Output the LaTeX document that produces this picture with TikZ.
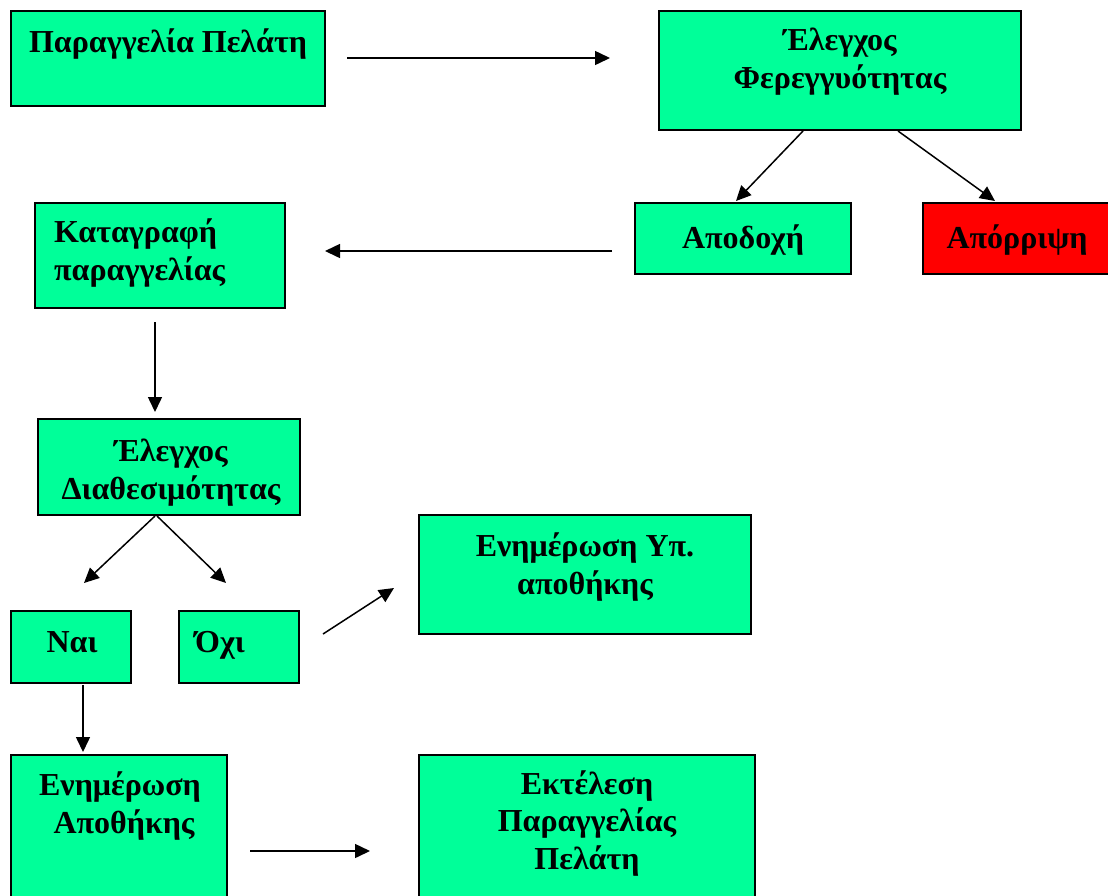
\documentclass[tikz,border=0pt]{standalone}
\usepackage{fontspec}
\setmainfont{Liberation Serif}
\usetikzlibrary{arrows.meta,fit}
\definecolor{boxgreen}{HTML}{00FF99}
\definecolor{boxred}{HTML}{FF0000}
\tikzset{
  box/.style={draw=black, line width=1.5pt, fill=boxgreen, inner sep=0pt},
  redbox/.style={box, fill=boxred},
  txt/.style={font=\fontsize{32}{37.5}\selectfont\bfseries, inner sep=0pt, anchor=base, align=center},
  txtl/.style={txt, anchor=base west, align=left},
  conn/.style={line width=1.5pt, -{Triangle[length=15pt,width=14pt]}}
}
\begin{document}
\begin{tikzpicture}[x=1pt,y=-1pt]
\useasboundingbox[fill=white] (0,0) rectangle (1108,895);
% boxes
\node[box, fit={(11,11) (325,106)}] (b1) {};
\node[box, fit={(659,11) (1021,130)}] (b2) {};
\node[box, fit={(635,203) (851,274)}] (acc) {};
\node[redbox, fit={(923,203) (1115,274)}] (rej) {};
\node[box, fit={(35,203) (285,308)}] (rec) {};
\node[box, fit={(38,419) (300,515)}] (avail) {};
\node[box, fit={(11,611) (131,683)}] (yes) {};
\node[box, fit={(179,611) (299,683)}] (no) {};
\node[box, fit={(419,515) (751,634)}] (upd2) {};
\node[box, fit={(11,755) (227,905)}] (upd) {};
\node[box, fit={(419,755) (755,905)}] (exec) {};
% texts (anchor=base is the baseline of the last line)
\node[txt] (t1) at (168,52) {Παραγγελία Πελάτη};
\node[txt] (t2) at (840,88) {Έλεγχος\\Φερεγγυότητας};
\node[txt] (t3) at (743,248) {Αποδοχή};
\node[txt] (t4) at (1017,248) {Απόρριψη};
\node[txtl] (t5) at (54,280) {Καταγραφή\\παραγγελίας};
\node[txt] (t6) at (171,499) {Έλεγχος\\Διαθεσιμότητας};
\node[txt] (t7) at (72,652) {Ναι};
\node[txtl] (t8) at (195,652) {Όχι};
\node[txt] (t9) at (585,594) {Ενημέρωση Υπ.\\αποθήκης};
\node[txt] (t10) at (120,833) {Ενημέρωση\\\hspace*{8pt}Αποθήκης};
\node[txt] (t11) at (587,869) {Εκτέλεση\\Παραγγελίας\\Πελάτη};
% connector ends
\coordinate (a1s) at (347,58);  \coordinate (a1e) at (610,58);
\coordinate (a2s) at (803,131); \coordinate (a2e) at (736,201);
\coordinate (a3s) at (898,131); \coordinate (a3e) at (995,201);
\coordinate (a4s) at (612,251); \coordinate (a4e) at (325,251);
\coordinate (a5s) at (155,322); \coordinate (a5e) at (155,412);
\coordinate (a6s) at (155,516); \coordinate (a6e) at (84,583);
\coordinate (a7s) at (157,516); \coordinate (a7e) at (226,583);
\coordinate (a8s) at (323,634); \coordinate (a8e) at (394,588);
\coordinate (a9s) at (83,685);  \coordinate (a9e) at (83,752);
\coordinate (a10s) at (250,851); \coordinate (a10e) at (370,851);
\draw[conn] (a1s) -- (a1e);
\draw[conn] (a2s) -- (a2e);
\draw[conn] (a3s) -- (a3e);
\draw[conn] (a4s) -- (a4e);
\draw[conn] (a5s) -- (a5e);
\draw[conn] (a6s) -- (a6e);
\draw[conn] (a7s) -- (a7e);
\draw[conn] (a8s) -- (a8e);
\draw[conn] (a9s) -- (a9e);
\draw[conn] (a10s) -- (a10e);
\end{tikzpicture}
\end{document}
